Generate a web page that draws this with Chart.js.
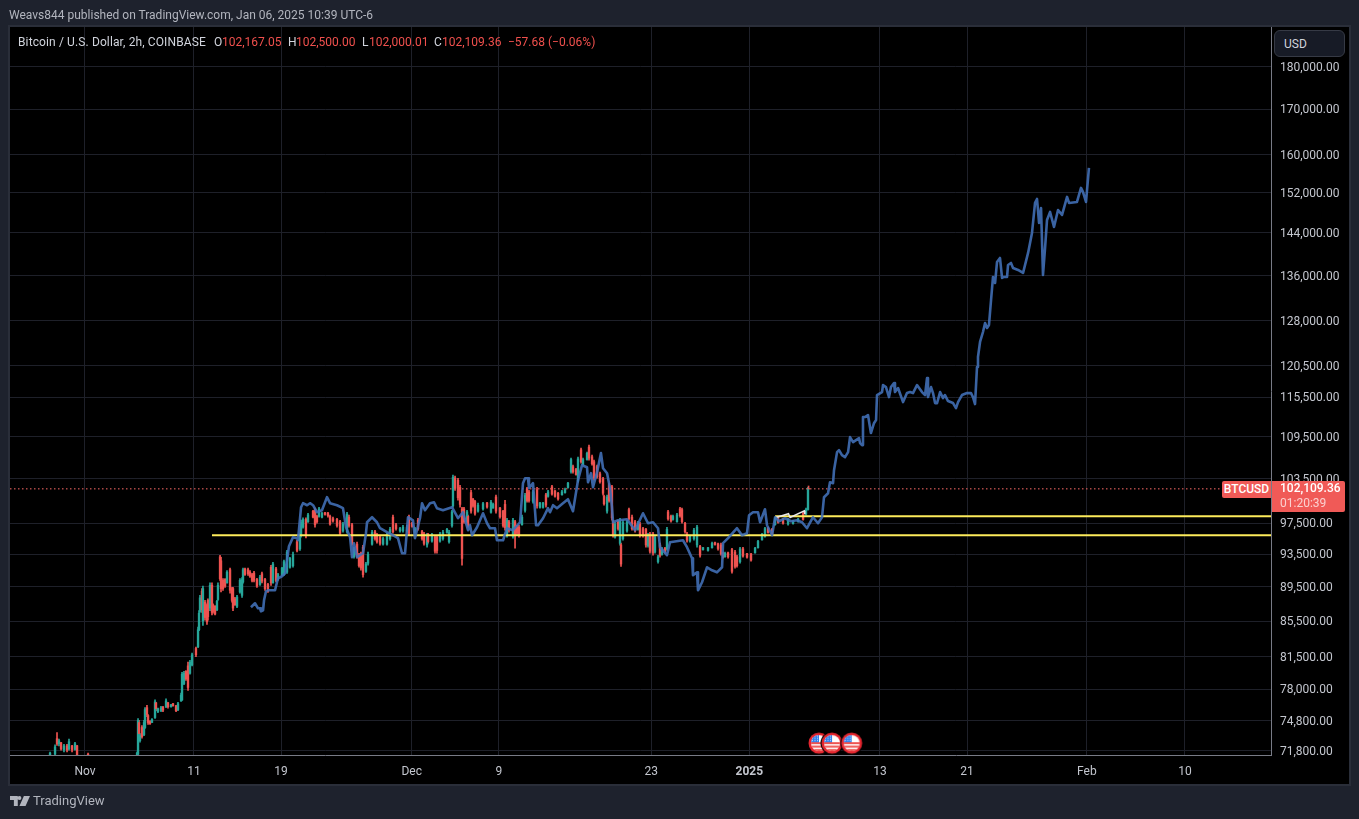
<!DOCTYPE html>
<html><head><meta charset="utf-8">
<script src="https://cdn.jsdelivr.net/npm/chart.js@4"></script>
<style>
html,body{margin:0;padding:0;width:1359px;height:819px;overflow:hidden;background:#1e222d;font-family:Roboto,sans-serif;font-size:12px}
#panel{position:absolute;left:8px;top:25px;width:1339px;height:757px;background:#000;border:2px solid #2a2e39}
#chart{position:absolute;left:0;top:0}
.t{position:absolute;white-space:nowrap;line-height:14px}
.g{color:#d1d4dc}.r{color:#f0504d}
#tag1,#tag2{position:absolute;background:#f05a57;color:#fff;text-align:center;font-weight:500}
#tag1{left:1222px;top:481px;width:49px;height:17px;line-height:17px;border-radius:2px 0 0 2px}
#tag2{left:1272px;top:481px;width:73px;height:31px;line-height:15px;padding-top:0;box-sizing:border-box;border-radius:0 2px 2px 0;text-align:left;padding-left:8px}
#tag2 span{color:#fbd0cf;font-weight:400}
#usd{position:absolute;left:1274px;top:30px;width:71px;height:27px;box-sizing:border-box;border:1px solid #363a45;border-radius:6px;background:#171b26;color:#d1d4dc;line-height:27px;padding-left:9px}
#brand{position:absolute;left:33px;top:793px;font-size:13px;line-height:16px;color:#b2b5be;font-weight:400}
#logo{position:absolute;left:10px;top:796px}
</style></head><body>
<div id="panel"></div>
<canvas id="chart" width="1359" height="819" style="width:1359px;height:819px"></canvas>
<div class="t g" style="left:9px;top:8px;font-size:12px;color:#b2b5be">Weavs844 published on TradingView.com, Jan 06, 2025 10:39 UTC-6</div>
<div class="t g" style="left:18px;top:35px;letter-spacing:.12px">Bitcoin / U.S. Dollar, 2h, COINBASE</div>
<div class="t g" style="left:214px;top:35px">O</div><div class="t r" style="left:222px;top:35px">102,167.05</div>
<div class="t g" style="left:288px;top:35px">H</div><div class="t r" style="left:296px;top:35px">102,500.00</div>
<div class="t g" style="left:362px;top:35px">L</div><div class="t r" style="left:369px;top:35px">102,000.01</div>
<div class="t g" style="left:434px;top:35px">C</div><div class="t r" style="left:442px;top:35px">102,109.36</div>
<div class="t r" style="left:508px;top:35px">−57.68 (−0.06%)</div>
<div id="usd">USD</div>
<div id="tag1">BTCUSD</div>
<div id="tag2">102,109.36<br><span>01:20:39</span></div>
<svg id="logo" width="20" height="10" viewBox="0 0 36 18"><path fill="#b2b5be" d="M0 0h14v18H7V7H0zM17 0a3.5 3.5 0 1 1 0 7 3.5 3.5 0 0 1 0-7zM25 0h11l-8 18H17z"/></svg>
<div id="brand">TradingView</div>
<script>
/* axes */
const xTickDays = [0, 10, 18, 30, 38, 52, 61, 73, 81, 92, 101];
const xTickLabels = ['Nov', '11', '19', 'Dec', '9', '23', '2025', '13', '21', 'Feb', '10'];
const yTickValues = [180000,170000,160000,152000,144000,136000,128000,120500,115500,109500,103500,97500,93500,89500,85500,81500,78000,74800,71800];
const xMin = -6.887, xMax = 108.907, yMin = 71415, yMax = 189900;

/* price candles: [days since Nov 1, open, high, low, close] */
const candlesNov = [
[-3.21,71400,71700,71300,71600],[-2.75,71500,72400,71200,72200],[-2.57,73000,73600,72350,72500],[-2.39,72500,72950,72300,72800],[-2.20,72600,72650,71870,72000],[-1.93,71900,72450,71700,72300],[-1.65,72300,72450,71700,71900],[-1.47,72000,72950,71870,72700],[-1.19,72300,72350,71700,71900],[-0.92,71950,72650,71870,72500],[-0.73,72300,72350,71200,71300],[0.28,71500,71600,71200,71300],
[4.78,71400,71700,71200,71600],[4.87,71500,75000,71200,74800],[4.96,74600,74820,73330,73500],[5.05,72800,73500,72650,73300],[5.23,74100,74300,73050,73200],[5.42,73400,74820,73300,74600],[5.51,74100,76100,74000,75900],[5.69,76100,76350,75200,75400],[5.79,75300,75400,74400,74600],[5.97,74700,74800,74400,74500],[6.15,74600,75000,74600,74900],[6.43,75100,76900,75000,76700],[6.52,76600,76650,75800,76000],[6.70,75700,76050,75600,76000],[6.98,75800,76250,75700,76100],[7.16,76150,76250,75700,75850],[7.44,76200,77000,76100,76800],[7.62,76600,76650,76050,76200],[7.90,76200,76450,76150,76400],[8.08,76500,76550,76250,76300],[8.36,76300,76350,75700,75800],[8.54,75900,76650,75800,76500],[8.82,76800,77600,76750,77400],[8.91,76900,79800,76850,79600],[9.09,78600,79900,78500,79700],[9.27,79900,80000,78950,79100],[9.46,80500,80900,77900,78200],[9.64,79700,81100,79600,80900],[9.83,80600,81900,80500,81700],
[10.19,82400,82550,81500,81700],[10.38,82600,84800,82500,84500],[10.47,84500,86700,84400,86400],[10.56,86600,88500,86500,88200],[10.74,89000,89300,86500,86800],[10.83,85500,89600,85000,89300],[11.02,87700,87900,85600,85900],[11.20,87300,87500,85100,85400],[11.29,87900,88100,85600,86000],[11.48,87000,90000,86700,89700],[11.66,89700,90000,86200,86500],[11.75,87400,87500,86400,86600],[11.94,87200,87300,86200,86300],[12.12,86800,87900,86700,87800],[12.21,88000,90000,87900,89700],[12.40,93200,93400,90300,90500],[12.49,92700,93150,88900,89300],[12.67,90300,90500,89100,89300],[12.86,90400,90500,89450,89600],[13.04,90000,91500,89950,91300],[13.32,91600,91800,88750,89100],[13.50,89300,89450,87700,87900],[13.59,89300,89450,86700,87000],[13.77,88100,88250,87300,87400],[13.96,87200,88500,87050,88300],[14.23,88900,90500,88750,90300],[14.42,88500,90650,88250,90400],[14.51,90100,91800,89950,91600],[14.69,91700,91800,90900,91000],[14.97,91600,91800,90900,91100],[15.15,91300,91500,90650,90800],[15.34,91000,91150,90100,90300],[15.52,91200,91400,90100,90300],[15.79,90400,90550,89450,89600],[16.07,89800,90900,89700,90700],[16.25,91100,91300,90000,90200],[16.53,90400,90550,89100,89300],[16.80,89800,89950,88850,89000],[17.08,91900,92150,89700,90000],[17.26,90000,92500,89950,92300],[17.54,91700,91900,90100,90300],[17.72,90400,91150,90300,91000],[18.09,90950,91900,90900,91800],[18.27,91000,92800,90900,92600],[18.55,91300,94000,91150,93800],[18.82,91900,93150,91800,93000],[19.10,92100,93800,91900,93500],[19.47,95100,95300,93800,94000],[19.74,94200,96200,94000,96000],[19.84,95900,97900,95700,97600],
[20.02,97000,98200,96850,98000],[20.29,98000,98200,95600,95900],[20.48,97700,98800,97600,98600],[20.94,99100,99200,98200,98300],[21.12,99300,99500,96980,97300],[21.30,98400,98560,97500,97700],[21.49,98400,99620,98300,99400],[21.76,98300,98950,98200,98800],[22.04,98900,98950,98560,98650],[22.31,98850,98950,98300,98500],[22.50,98400,98560,97240,97400],[22.77,98100,98300,97630,97800],[23.14,98000,98160,96980,97200],[23.42,97700,97890,95940,96200],[23.69,96500,97630,96330,97400],[24.06,96400,98950,96200,98700],[24.24,98300,98560,96980,97200],[24.52,97300,97500,94660,94900],[24.70,93200,94410,93020,94200],[24.98,94800,95050,93020,93300],[25.16,93400,93650,91900,92100],[25.34,93600,93780,91530,91800],[25.53,94400,94660,90680,91000],[25.80,91400,92500,91280,92300],[25.99,92400,93780,92150,93500],[26.36,94800,96590,94660,96300],[26.63,96400,96590,95300,95500],[26.81,96000,96200,94920,95100],[27.09,95700,95940,94660,94900],[27.37,94800,95690,94660,95500],[27.73,94800,96200,94660,96000],[28.01,95500,96980,95300,96700],[28.28,98300,98560,96200,96400],[28.56,97300,97500,96590,96800],[28.93,96500,96980,96330,96800],[29.20,96500,97240,96330,97000],[29.57,96500,97240,96330,97000],[29.75,98300,98560,95940,96200]];
const candlesDec = [
[30.03,97500,97630,96980,97100],[30.30,96400,96980,96200,96800],[30.58,97900,98160,96590,96800],[30.95,96400,96590,95300,95500],[31.13,96100,96330,94660,94900],[31.41,94700,96200,94410,96000],[31.50,96000,96200,94920,95100],[31.86,95200,96200,95050,96000],[32.14,95700,95940,93650,93900],[32.32,95700,95940,93650,94000],[32.60,95200,96330,95050,96100],[32.87,95500,96590,95300,96300],[33.24,96300,96850,96200,96700],[33.43,95100,96590,94920,96300],[33.70,97200,99220,96980,99000],[33.79,99800,104000,99620,103700],[33.98,103600,103860,101900,102200],[34.25,103300,103580,100560,100900],[34.44,102300,102600,99620,100000],[34.62,99400,99620,92150,93000],[34.80,99400,99620,97500,97700],[35.08,97700,99220,97500,99000],[35.17,98400,98560,96980,97200],[35.45,101600,101900,98820,99100],[35.63,100700,100830,99620,99800],[35.81,100400,100560,98560,98800],[36.09,99100,100160,98950,99900],[36.55,99400,100290,99220,100100],[36.92,100200,100290,99490,99650],[37.28,98950,100560,98820,100300],[37.47,99500,100160,99490,100000],[37.74,101000,101250,98820,99100],[38.11,99500,99620,98160,98350],[38.39,99100,99220,96980,97200],[38.57,100000,100560,96590,96900],[38.75,95900,98160,95690,97900],[38.93,97700,97890,96330,96600],[39.30,95800,98160,95560,97900],[39.49,97700,97890,94280,95900],[39.67,97000,97240,95940,96200],[39.85,97000,97240,95690,95900],[40.13,97300,98560,97240,98300],[40.41,99200,101510,98950,101200],[40.59,102100,102330,100290,100500],[40.77,101700,101920,100290,100500],[41.14,100400,101920,100160,101700],[41.51,102000,102330,99490,99800],[41.78,99600,100290,99490,100200],[42.06,99600,100290,99490,100200],[42.33,101300,101510,99620,99900],[42.52,101100,101920,100970,101700],[42.88,102400,102600,101250,101400],[43.16,101800,101920,100970,101100],[43.44,101500,101650,100560,100750],[43.80,101300,101920,101250,101700],[44.08,101600,102200,101510,102000],[44.35,102300,103020,102200,102900],[44.63,104500,106410,104280,106200],[44.81,105200,105410,104280,104500],[45.09,104800,104980,104000,104100],[45.27,103200,106550,103020,106300],[45.55,107600,107850,105690,105900],[45.73,105500,106410,105410,106200],[46.10,106200,107270,106120,107100],[46.28,108000,108300,106120,106400],[46.56,106600,106840,105410,105600],[46.74,105900,106120,103300,103600],[47.02,105200,105410,103580,103800],[47.29,104200,104420,102890,103100],[47.57,103500,103720,101250,101500],[47.66,101100,101250,99890,100100],[47.94,99100,101250,98820,101000],[48.12,102700,102890,100290,100500],[48.39,102400,102600,97890,98200],[48.49,97700,97890,95690,95900],[48.67,95700,97630,95560,97400],[48.95,97700,97890,96590,96800],[49.13,94900,98160,94660,97900],[49.22,94700,94920,92020,92300],[49.40,95500,97890,95300,97600],[49.77,96500,97890,96330,97700],[49.95,99300,99490,97890,98100],[50.23,98300,98560,96590,96800],[50.51,97700,97890,96330,96500],[50.78,96700,97760,96590,97500],[50.96,97400,97630,95690,95900],[51.24,96800,96980,95690,95900],[51.51,96700,96850,94410,94700],[51.70,94600,96200,94410,95900],[51.88,96100,96330,93650,93900],[52.16,96100,96330,93400,93700],[52.34,93800,95940,93650,95700],[52.62,92600,93400,92400,93200],[52.80,94700,94920,93150,93400],[52.98,93500,94410,93400,94200],[53.26,94300,94410,93650,93800],[53.44,94200,96980,94030,96700],[53.54,99000,99220,97890,98100],[53.81,98400,98560,97630,97800],[53.99,98000,98560,97890,98400],[54.36,97700,98820,97630,98600],[54.64,99400,99620,98290,98500],[54.82,99300,99490,97500,97700],[55.10,97500,97630,96200,96400],[55.28,96100,96330,95050,95300],[55.55,95200,95940,95050,95800],[55.92,95500,96850,95300,96600],[56.20,94700,97240,94410,97000],[56.48,94500,94660,93150,93400],[56.75,94100,94410,94030,94350],[57.21,94000,94410,93900,94350],[57.58,94350,95050,94280,94900],[57.85,95000,95050,94660,94750],[58.13,94850,94920,94030,94250],[58.40,94700,94920,93400,93600],[58.59,93700,93780,93020,93150],[58.77,93200,93780,93150,93650],[59.05,93700,93780,93020,93200],[59.41,94100,94280,91160,91400],[59.69,93800,94030,91780,92000],[59.87,93200,93400,91900,92100],[60.15,92600,94410,92400,94200],[60.42,94200,94410,93150,93300],[60.79,93600,93650,93020,93150]];
const candlesJan = [
[61.16,93550,93650,92650,92800],[61.53,93700,94410,93650,94300],[61.80,94350,95300,94280,95150],[62.17,95350,96200,95300,96050],[62.44,95800,96980,95690,96800],[62.72,96900,96980,96200,96300],[63.09,96700,96850,95940,96100],[63.37,97300,98290,97240,98100],[63.64,98150,98290,97500,97650],[64.10,98050,98160,97370,97500],[64.56,97400,98160,97240,98000],[65.02,97450,97890,97370,97800],[65.48,97750,98160,97630,98050],[65.94,98800,98950,97890,98000],[66.21,98700,99490,98560,99300],[66.39,99300,102330,99220,102200],[66.44,102167.05,102500,102000.01,102109.36]];

/* hand-drawn forecast: [days since Nov 1, price] */
const forecastNov = [[15.24,87090],[15.61,87560],[15.89,86970],[16.07,86970],[16.16,86620],[16.35,86740],[16.44,87910],[16.62,88980],[16.80,89100],[17.45,89100],[17.63,90070],[17.72,90550],[18.09,90800],[18.37,91160],[18.55,92770],[18.73,94530],[19.10,95690],[19.47,95560],[19.56,95300],[19.84,99620],[20.02,100160],[20.39,99890],[20.66,100160],[20.94,99890],[21.30,98950],[21.76,99220],[22.22,100970],[22.50,100160],[23.14,99890],[23.69,99490],[23.97,96980],[24.34,95690],[24.52,93150],[24.70,94920],[24.98,93150],[25.53,93650],[25.80,96200],[25.90,97630],[26.36,98290],[26.81,97630],[27.09,96850],[27.73,96330],[28.28,95940],[28.74,95560],[29.11,93650],[29.39,93650],[29.66,98290]];
const forecastDec = [[30.12,97890],[30.30,95560],[30.76,98160],[30.95,100160],[31.22,99220],[31.68,100160],[32.05,100290],[32.32,99490],[32.87,99220],[33.70,99620],[34.25,98160],[34.71,98950],[35.17,96590],[35.35,97240],[35.54,95940],[36.00,96980],[36.55,98820],[36.92,97500],[37.19,96850],[37.65,96850],[37.83,95300],[38.39,95300],[38.75,96850],[39.30,96590],[39.95,97630],[40.22,102890],[40.41,103580],[40.68,103580],[40.77,102200],[41.14,102890],[41.42,97240],[41.60,97240],[42.06,98160],[42.52,99490],[42.70,98950],[42.98,99890],[43.34,99490],[43.89,100160],[44.35,100700],[44.81,99090],[45.27,103300],[45.64,105410],[46.10,105120],[46.19,103020],[46.47,104280],[46.65,102330],[47.02,104420],[47.38,107130],[47.57,104980],[47.94,104280],[48.21,102200],[48.39,99620],[48.49,97630],[48.95,97890],[49.77,98020],[50.51,96590],[51.24,98820],[51.70,97500],[52.16,97630],[52.62,96850],[52.80,94410],[53.44,93400],[53.72,95050],[54.91,95300],[55.28,94410],[55.74,93020],[55.83,90920],[56.20,91280],[56.29,89100],[56.66,90070],[57.12,91900],[57.58,91530],[58.03,91280],[58.50,91900],[58.59,94920],[59.05,95560],[59.87,96850],[60.33,95940],[60.79,96200],[60.98,98560]];
const forecastJan = [[61.34,98950],[61.80,98950],[61.99,97630],[62.44,99350],[62.63,97240],[63.09,95940],[63.37,98290],[63.74,97760],[64.28,98160],[64.83,97760],[65.38,97890],[65.84,97630],[66.30,96850],[66.85,98290],[67.31,97500],[67.68,98290],[67.86,100970],[68.23,101510],[68.41,103020],[68.69,102890],[68.78,104700],[69.06,107270],[69.24,107560],[69.51,106840],[69.79,106550],[70.07,107270],[70.25,109460],[70.53,108730],[71.08,109310],[71.17,108580],[71.35,108290],[71.44,112450],[71.63,112450],[71.90,112750],[72.17,110060],[72.45,111530],[72.64,111990],[72.73,115820],[73.19,116290],[73.28,117390],[73.55,117070],[73.83,115510],[74.01,117070],[74.29,117700],[74.38,116290],[74.66,116920],[75.12,114730],[75.48,116130],[75.76,116290],[76.03,116130],[76.40,117390],[76.86,116290],[77.14,115820],[77.32,118500],[77.41,115510],[77.69,117070],[77.87,116130],[78.06,114580],[78.24,114580],[78.52,116290],[78.79,115350],[78.97,115820],[79.25,114890],[79.71,114580],[79.98,113810],[80.17,114730],[80.53,115820],[80.99,116130],[81.36,116130],[81.54,115510],[81.73,114430],[81.91,120260],[82.00,121900],[82.19,124380],[82.46,126060],[82.65,127600],[82.83,126740],[83.01,127260],[83.20,131600],[83.38,135740],[83.57,134640],[83.75,138500],[84.02,139250],[84.21,135550],[84.39,135740],[84.67,135740],[84.76,137940],[85.03,138310],[85.22,137390],[85.68,137020],[86.14,136470],[86.60,140190],[86.96,144000],[87.24,149930],[87.42,150730],[87.61,145950],[87.79,148920],[87.97,136110],[88.16,141130],[88.34,146540],[88.62,148120],[88.98,145170],[89.35,148520],[89.72,147530],[90.18,151140],[90.36,149930],[91.09,150130],[91.46,152980],[91.64,152160],[91.92,150130],[92.19,157140]];

/* drawings and markers */
const supportLow = [[11.66,95940],[xMax,95940]];
const supportHigh = [[63.37,98430],[xMax,98430]];
const wedge = [[63.46,98250],[64.60,98750],[64.75,98250],[66.05,99150],[66.10,98700]];
const lastPrice = 102109.36;
const eventDays = [67.4, 68.6, 70.4];
const eventPrice = 72560;

const RED = '#ef5350', TEAL = '#26a69a', GRID = '#1e2029', AXIS = '#787b86', TXT = '#c3c6ce';
const candles = [...candlesNov, ...candlesDec, ...candlesJan];
const forecast = [...forecastNov, ...forecastDec, ...forecastJan];
const toXY = rows => rows.map(r => ({x: r[0], y: r[1]}));
const candleColor = candles.map(c => c[4] < c[1] ? RED : TEAL);

function flagIcon() {
  const c = document.createElement('canvas'); c.width = c.height = 24;
  const g = c.getContext('2d'), m = 12;
  g.beginPath(); g.arc(m, m, 11.5, 0, 7); g.fillStyle = '#000'; g.fill();
  g.beginPath(); g.arc(m, m, 10.5, 0, 7); g.fillStyle = '#e5262f'; g.fill();
  g.save(); g.beginPath(); g.arc(m, m, 8, 0, 7); g.clip();
  g.fillStyle = '#fff'; g.fillRect(0, 0, 24, 24);
  g.fillStyle = '#ef5350'; [11, 14.5, 18].forEach(y => g.fillRect(0, y, 24, 2));
  g.fillStyle = '#2f80ed'; g.fillRect(3, 3, 9, 8);
  g.fillStyle = '#cfe3ff'; for (let i = 0; i < 3; i++) for (let j = 0; j < 3; j++) g.fillRect(5 + i * 2.5, 4.5 + j * 2.2, 1, 1);
  g.restore();
  return c;
}
const line = (data, color, width, order, extra) => Object.assign({type: 'line', data, borderColor: color, borderWidth: width, pointRadius: 0, tension: 0, order}, extra || {});

new Chart(document.getElementById('chart'), {
  type: 'bar',
  data: {datasets: [
    line(eventDays.map(d => ({x: d, y: eventPrice})), 'transparent', 0, 0, {showLine: false, pointStyle: flagIcon(), pointRadius: 12, clip: false}),
    line(toXY(forecast), 'rgba(66,113,184,0.88)', 2.6, 1, {borderJoinStyle: 'round'}),
    line(toXY(wedge), '#e8e8e8', 1.5, 2),
    line(toXY(supportLow), '#fdeb5b', 2, 3),
    line(toXY(supportHigh), '#fdeb5b', 2, 3),
    {type: 'bar', data: candles.map(c => ({x: c[0], y: [c[1], c[4]]})), backgroundColor: candleColor, barThickness: 1.7, grouped: false, order: 4},
    {type: 'bar', data: candles.map(c => ({x: c[0], y: [c[3], c[2]]})), backgroundColor: candleColor, barThickness: 1, grouped: false, order: 5},
    line([{x: xMin, y: lastPrice}, {x: xMax, y: lastPrice}], '#ff6b68', 1, 6, {borderDash: [1.5, 2.5]})
  ]},
  options: {
    responsive: false, animation: false, devicePixelRatio: 1,
    layout: {autoPadding: false, padding: {left: 10, top: 27, right: 11, bottom: 36}},
    plugins: {legend: {display: false}, tooltip: {enabled: false}, title: {display: false}},
    events: [],
    scales: {
      x: {
        type: 'linear', min: xMin, max: xMax, offset: false,
        afterBuildTicks: s => { s.ticks = xTickDays.map(v => ({value: v})); },
        afterFit: s => { s.height = 28; s.paddingLeft = 0; s.paddingRight = 0; },
        grid: {color: GRID, offset: false, drawTicks: false, lineWidth: 1},
        border: {color: AXIS},
        ticks: {
          autoSkip: false, maxRotation: 0, padding: 10, color: TXT,
          font: c => ({family: 'Roboto', size: 12, weight: c.tick && c.tick.value === 61 ? '700' : '400'}),
          callback: v => xTickLabels[xTickDays.indexOf(v)]
        }
      },
      y: {
        type: 'logarithmic', position: 'right', min: yMin, max: yMax,
        afterBuildTicks: s => { s.ticks = yTickValues.map(v => ({value: v})); },
        afterFit: s => { s.width = 77; s.paddingTop = 0; s.paddingBottom = 0; },
        grid: {color: GRID, drawTicks: false, lineWidth: 1},
        border: {color: AXIS},
        ticks: {
          autoSkip: false, padding: 9, labelOffset: 1, color: TXT, font: {family: 'Roboto', size: 12},
          callback: v => Number(v).toLocaleString('en-US', {minimumFractionDigits: 2, maximumFractionDigits: 2})
        }
      }
    }
  }
});
</script>
</body></html>
